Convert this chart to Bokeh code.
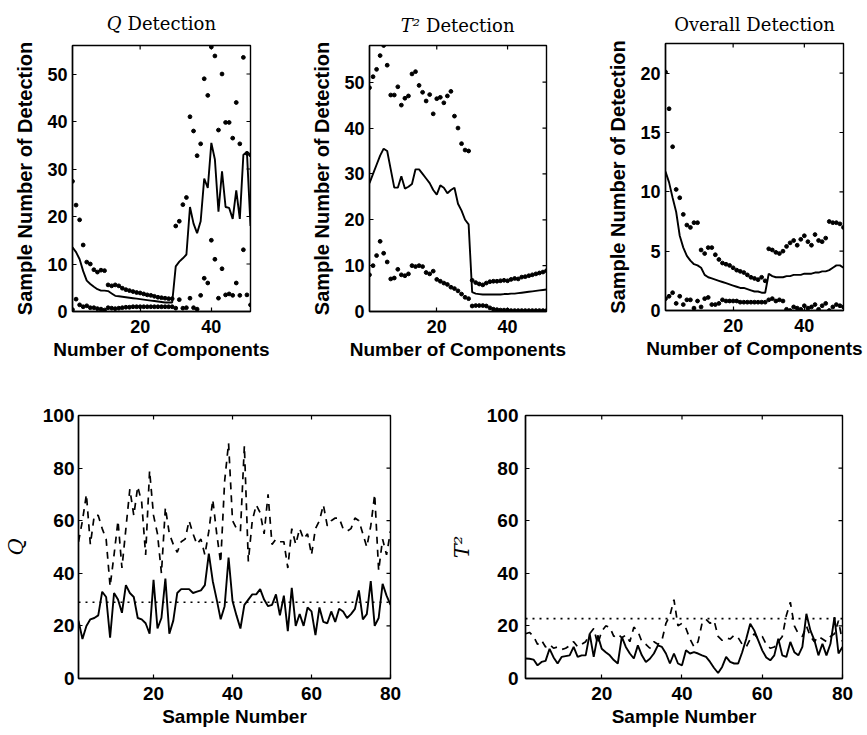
import math
from bokeh.plotting import figure
from bokeh.layouts import column, row
from bokeh.models import Range1d, FixedTicker, Span
from bokeh.core.properties import value
from bokeh.embed import file_html
from bokeh.resources import INLINE

# ---------------- data ----------------
components = list(range(1, 52))
samples = list(range(1, 81))

# Q detection (top left)
q_det_upper = [27.4, 22.4, 19.3, 14.0, 10.4, 10.0, 8.8, 8.3, 8.7, 8.6,
               5.6, 5.4, 5.6, 5.4, 4.9, 4.6, 4.4, 4.2, 4.0, 3.9,
               3.7, 3.5, 3.4, 3.2, 3.0, 2.9, 2.8, 2.7, 2.7,
               18.0, 19.0, 22.5, 24.0, 41.0, 38.0, 32.8, 35.3, 49.0, 45.5,
               55.7, 53.8, 38.2, 50.0, 39.8, 39.8, 36.5, 44.0, 35.3, 53.5, 33.3, 33.0]
q_det_mean = [13.5, 12.5, 11.0, 8.5, 6.5, 5.8, 5.2, 4.7, 4.4, 4.4,
              4.3, 3.8, 3.3, 3.2, 3.1, 3.0, 2.9, 2.8, 2.7, 2.6,
              2.5, 2.4, 2.3, 2.2, 2.1, 2.0, 1.9, 1.9, 1.9,
              9.5, 10.5, 11.2, 12.0, 22.0, 18.5, 16.5, 19.0, 28.0, 26.0,
              35.5, 32.0, 21.0, 29.5, 22.0, 21.8, 19.5, 25.5, 19.5, 33.0, 33.5, 18.0]
q_det_lower = [0.4, 2.6, 1.4, 1.0, 1.2, 0.8, 0.8, 0.6, 0.5, 0.3,
               0.8, 0.7, 0.6, 0.7, 0.8, 0.9, 0.9, 1.0, 1.0, 1.0,
               1.0, 1.0, 1.0, 1.0, 1.0, 1.0, 1.0, 1.0, 1.0,
               0.7, 2.5, 0.7, 0.8, 2.8, 0.8, 0.5, 3.4, 7.0, 6.0,
               15.0, 11.0, 2.8, 9.0, 3.5, 3.7, 3.4, 6.0, 3.4, 13.0, 3.5, 1.4]

# T^2 detection (top middle)
t_det_upper = [48.8, 51.2, 52.8, 55.8, 58.0, 53.7, 47.2, 47.2, 49.0, 45.0,
               46.5, 47.0, 51.8, 52.3, 49.3, 47.8, 45.9, 47.3, 43.1, 46.4,
               46.7, 45.5, 47.0, 48.0, 42.6, 40.0, 36.6, 35.2, 35.0,
               6.8, 6.3, 6.0, 5.8, 6.2, 6.5, 6.6, 6.6, 6.7, 6.8,
               6.7, 7.0, 7.2, 7.1, 7.5, 7.6, 7.8, 8.0, 8.2, 8.4, 8.6, 8.9]
t_det_mean = [28.0, 30.0, 32.0, 34.0, 35.5, 35.0, 31.0, 27.0, 27.0, 29.5,
              26.8, 27.2, 27.8, 31.0, 31.0, 30.0, 29.0, 28.0, 26.5, 25.5,
              27.5, 27.0, 25.8, 26.5, 27.0, 23.5, 22.0, 20.0, 19.0,
              4.2, 3.9, 3.8, 3.7, 3.7, 3.7, 3.7, 3.7, 3.7, 3.8,
              3.8, 3.9, 3.9, 4.0, 4.1, 4.2, 4.3, 4.4, 4.5, 4.6, 4.7, 4.8]
t_det_lower = [8.0, 10.0, 12.2, 15.3, 12.7, 10.8, 7.1, 7.3, 9.2, 8.0,
               7.8, 8.2, 10.0, 9.8, 10.0, 9.8, 8.5, 8.2, 8.8, 7.0,
               6.6, 6.2, 5.9, 5.3, 5.0, 4.5, 3.8, 3.1, 2.8,
               1.2, 1.3, 1.3, 1.3, 1.2, 0.8, 0.5, 0.4, 0.3, 0.3,
               0.3, 0.2, 0.2, 0.2, 0.2, 0.2, 0.2, 0.2, 0.2, 0.2, 0.2, 0.2]

# Overall detection (top right)
o_det_upper = [20.1, 17.0, 13.8, 10.2, 9.5, 8.1, 7.2, 7.0, 7.4, 7.4,
               5.1, 4.8, 5.3, 5.3, 4.7, 4.3, 4.0, 3.9, 3.8, 3.6,
               3.4, 3.3, 3.2, 3.0, 2.8, 2.7, 2.6, 2.8, 2.5,
               5.2, 5.1, 4.9, 4.8, 5.0, 5.4, 5.7, 5.9, 5.5, 6.0,
               6.3, 5.8, 5.5, 6.4, 5.9, 5.8, 6.1, 7.5, 7.4, 7.4, 7.3, 7.0]
o_det_mean = [11.7, 10.8, 9.5, 8.3, 6.3, 5.3, 4.6, 4.2, 3.9, 3.8,
              3.6, 3.0, 2.8, 2.7, 2.6, 2.5, 2.4, 2.3, 2.2, 2.1,
              2.0, 1.9, 1.9, 1.8, 1.7, 1.6, 1.6, 1.5, 1.5,
              3.1, 2.9, 2.8, 2.8, 2.8, 2.9, 2.9, 3.0, 3.0, 3.0,
              3.1, 3.1, 3.1, 3.2, 3.2, 3.3, 3.3, 3.4, 3.6, 3.8, 3.8, 3.6]
o_det_lower = [1.0, 1.2, 1.5, 0.6, 1.2, 0.5, 0.9, 0.9, 0.2, 0.8,
               0.3, 1.0, 1.1, 0.5, 0.5, 0.6, 0.9, 0.8, 0.8, 0.8,
               0.8, 0.7, 0.7, 0.7, 0.7, 0.7, 0.7, 0.7, 0.7,
               0.9, 1.0, 0.8, 0.9, 0.8, 0.1, 0.0, 0.3, 0.2, 0.1,
               0.4, 0.2, 0.3, 0.5, 0.1, 0.4, 0.6, 0.0, 0.3, 0.5, 0.4, 0.3]

# Q statistic (bottom left)
q_solid = [22, 15, 20, 22.5, 23, 24, 33, 31, 15.5, 32.5,
           30, 25, 35.5, 32.5, 31, 23, 22.5, 21, 17, 37.5,
           19, 23, 38, 17, 22, 32.5, 34, 34, 34, 32.5,
           33, 33.5, 35.5, 47.5, 37, 30, 22.5, 27.5, 46, 29.5,
           24, 19, 28, 30, 32, 32, 34, 30, 27.5, 28,
           32, 24, 31.5, 18, 34.5, 20, 24.5, 20, 27, 25.5,
           16.5, 27, 21.5, 21, 25.5, 21.5, 26.5, 25.5, 23, 24.5,
           26.5, 33.5, 22.5, 24.5, 37, 20, 23, 36, 31.5, 28]
q_dashed = [52, 60, 70, 51, 62, 62, 57, 53, 35, 47,
            60, 42, 57, 72, 62, 73, 67, 47, 79, 62,
            55, 40, 65, 55, 51, 48, 52, 53, 60, 55,
            51, 53, 47, 56, 68, 55, 44, 75, 89.5, 60,
            57, 56, 88.5, 44.5, 60, 66, 63, 55, 70, 51,
            53, 52, 52, 42, 57, 51, 57, 53, 55, 47,
            57, 60, 66, 58, 60, 61, 61, 57, 56, 57,
            61, 60, 55, 50, 58, 70, 41, 53, 47, 56]
q_limit = 29.0

# T^2 statistic (bottom right)
t_solid = [7.6, 7.5, 7.2, 5.0, 6.3, 6.7, 11.3, 8.0, 5.7, 8.2,
           8.5, 8.8, 12.0, 8.2, 8.8, 8.8, 17.0, 8.2, 16.4, 11.3,
           10.0, 8.8, 7.0, 5.7, 15.8, 12.0, 9.5, 7.6, 12.6, 8.8,
           6.3, 7.5, 9.5, 12.6, 12.0, 9.5, 5.7, 9.5, 5.7, 5.0,
           10.7, 9.5, 10.0, 9.5, 8.8, 8.2, 6.3, 4.0, 2.1, 4.4,
           8.2, 6.3, 5.7, 5.7, 10.0, 15.0, 20.8, 18.3, 14.5, 10.7,
           8.0, 6.9, 8.8, 15.1, 8.8, 8.2, 13.9, 10.0, 8.8, 12.0,
           24.6, 18.3, 14.5, 8.8, 13.2, 8.8, 13.2, 23.3, 9.5, 12.0]
t_dashed = [17, 17.5, 16, 13, 14.5, 12, 13, 11.5, 12, 11,
            11.5, 12.5, 14, 12, 13, 14, 17, 19, 13, 18,
            20, 19.5, 16, 17, 15.5, 16.5, 14, 19.5, 18, 14,
            13, 11.5, 14, 13, 14.5, 21, 24, 30, 20, 21,
            19, 15, 12, 14, 21, 22.5, 21, 22, 16, 14.5,
            15.5, 15, 16.5, 15.5, 13, 12, 15, 17, 15, 16,
            13, 11.5, 12, 14, 16, 24, 29, 20, 17, 16,
            20, 16, 14, 16, 15, 14, 16, 17, 22, 14]
t_limit = 22.8

top_xticks = [20, 40]
bottom_xticks = [20, 40, 60, 80]
titles = [("Q", "Detection"), ("T²", "Detection"), ("", "Overall Detection")]

SANS = "Liberation Sans"
SERIF = "DejaVu Serif"
COMP_RANGE = (1, 51)


def make_fig(width, height, bl, br, bt, bb, xr, yr, xticks, yticks,
             xlabel, ylabel, tick_size, xlabel_size, ylabel_size, ylabel_font=SANS,
             ylabel_style="bold", ylab_standoff=8, ytick_standoff=5):
    p = figure(width=width, height=height, x_range=Range1d(*xr), y_range=Range1d(*yr),
               output_backend="svg", toolbar_location=None,
               min_border_left=bl, min_border_right=br,
               min_border_top=bt, min_border_bottom=bb)
    p.xgrid.visible = False
    p.ygrid.visible = False
    p.outline_line_color = "black"
    p.outline_line_width = 1.4
    p.outline_line_alpha = 1.0

    for ax, ticks in ((p.xaxis[0], xticks), (p.yaxis[0], yticks)):
        ax.ticker = FixedTicker(ticks=ticks)
        ax.minor_tick_line_color = None
        ax.major_tick_in = 4
        ax.major_tick_out = 0
        ax.major_tick_line_color = "black"
        ax.major_tick_line_width = 1.2
        ax.axis_line_color = "black"
        ax.axis_line_width = 1.4
        ax.major_label_text_font = SANS
        ax.major_label_text_font_style = "bold"
        ax.major_label_text_font_size = f"{tick_size}px"
        ax.major_label_text_color = "black"
        ax.axis_label_text_color = "black"
    p.xaxis[0].major_label_standoff = 8
    p.yaxis[0].major_label_standoff = ytick_standoff
    p.xaxis[0].axis_label = xlabel
    p.xaxis[0].axis_label_text_font = SANS
    p.xaxis[0].axis_label_text_font_style = "bold"
    p.xaxis[0].axis_label_text_font_size = f"{xlabel_size}px"
    p.xaxis[0].axis_label_standoff = 3
    p.yaxis[0].axis_label = ylabel
    p.yaxis[0].axis_label_text_font = ylabel_font
    p.yaxis[0].axis_label_text_font_style = ylabel_style
    p.yaxis[0].axis_label_text_font_size = f"{ylabel_size}px"
    p.yaxis[0].axis_label_standoff = ylab_standoff

    # box ticks on the top and right edges (outer half is clipped by the frame)
    p.scatter(xticks, [yr[1]] * len(xticks), marker="dash", size=8, angle=math.pi / 2,
              line_color="black", line_width=1.2)
    p.scatter([xr[1]] * len(yticks), yticks, marker="dash", size=8,
              line_color="black", line_width=1.2)
    return p


def title_fig(width, height, bl, br, baseline, lead, rest):
    t = figure(width=width, height=height, x_range=Range1d(*COMP_RANGE),
               y_range=Range1d(0, height), output_backend="svg", toolbar_location=None,
               min_border_left=bl, min_border_right=br, min_border_top=0, min_border_bottom=0)
    t.axis.visible = False
    t.grid.visible = False
    t.outline_line_color = None
    xc = (COMP_RANGE[0] + COMP_RANGE[1]) / 2
    y = height - baseline
    common = dict(text_baseline="alphabetic", text_font=value(SERIF),
                  text_font_size="18px", text_color="black")
    if lead:
        t.text(x=[xc], y=[y], text=[lead], text_align="right", x_offset=-40 if lead == "Q" else -38,
               text_font_style="italic", **common)
        t.text(x=[xc], y=[y], text=[rest], text_align="left", x_offset=-34 if lead == "Q" else -32,
               **common)
    else:
        t.text(x=[xc], y=[y], text=[rest], text_align="center", **common)
    return t


def detection_panel(p, upper, mean, lower):
    p.scatter(components, upper, size=3.8, marker="circle", color="black")
    p.line(components, mean, line_color="black", line_width=1.9)
    p.scatter(components, lower, size=3.8, marker="circle", color="black")


# ---------------- titles ----------------
t1 = title_fig(290, 40, 72, 40, 23, *titles[0])
t2 = title_fig(296, 40, 79, 40, 25, *titles[1])
t3 = title_fig(281, 38, 79, 24, 24, *titles[2])

# ---------------- top row ----------------
p1 = make_fig(290, 330, 72, 40, 5, 59, COMP_RANGE, (0, 56), top_xticks, [0, 10, 20, 30, 40, 50],
              "Number of Components", "Sample Number of Detection", 18, 19, 20)
detection_panel(p1, q_det_upper, q_det_mean, q_det_lower)

p2 = make_fig(296, 330, 79, 40, 5, 59, COMP_RANGE, (0, 58), top_xticks, [0, 10, 20, 30, 40, 50],
              "Number of Components", "Sample Number of Detection", 18, 19, 20)
detection_panel(p2, t_det_upper, t_det_mean, t_det_lower)

p3 = make_fig(281, 332, 79, 24, 5, 60, COMP_RANGE, (0, 22.5), top_xticks, [0, 5, 10, 15, 20],
              "Number of Components", "Sample Number of Detection", 18, 19, 20)
detection_panel(p3, o_det_upper, o_det_mean, o_det_lower)

# ---------------- bottom row ----------------
p4 = make_fig(440, 365, 72, 50, 45, 53, (1, 80), (0, 100), bottom_xticks, [0, 20, 40, 60, 80, 100],
              "Sample Number", "Q", 19, 19, 21, ylabel_font=SERIF, ylabel_style="italic",
              ylab_standoff=12, ytick_standoff=4)
p4.line(samples, q_dashed, line_color="black", line_width=1.7, line_dash="7 6")
p4.line(samples, q_solid, line_color="black", line_width=1.9)
p4.add_layout(Span(location=q_limit, dimension="width", line_color="black",
                   line_width=1.7, line_dash="2 5"))

p5 = make_fig(427, 365, 85, 25, 43, 57, (1, 80), (0, 100), bottom_xticks, [0, 20, 40, 60, 80, 100],
              "Sample Number", "T²", 19, 19, 21, ylabel_font=SERIF, ylabel_style="italic",
              ylab_standoff=10, ytick_standoff=7)
p5.line(samples, t_dashed, line_color="black", line_width=1.7, line_dash="7 6")
p5.line(samples, t_solid, line_color="black", line_width=1.9)
p5.add_layout(Span(location=t_limit, dimension="width", line_color="black",
                   line_width=1.7, line_dash="2 5"))

layout = column(row(column(t1, p1), column(t2, p2), column(t3, p3)), row(p4, p5))

open("out.html", "w").write(file_html(layout, INLINE))
